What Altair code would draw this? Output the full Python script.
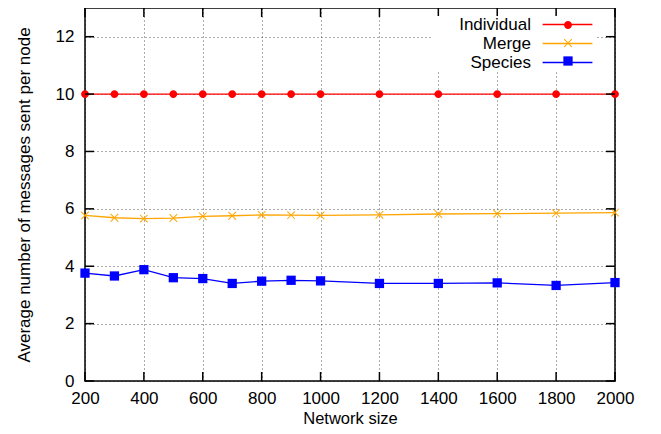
import altair as alt
import pandas as pd

sizes = [200, 300, 400, 500, 600, 700, 800, 900, 1000, 1200, 1400, 1600, 1800, 2000]
individual = [10, 10, 10, 10, 10, 10, 10, 10, 10, 10, 10, 10, 10, 10]
merge = [5.77, 5.69, 5.66, 5.68, 5.74, 5.76, 5.79, 5.78, 5.77, 5.79, 5.82, 5.83, 5.85, 5.87]
species = [3.76, 3.66, 3.88, 3.60, 3.57, 3.40, 3.48, 3.51, 3.49, 3.40, 3.40, 3.42, 3.33, 3.43]

series_names = ["Individual", "Merge", "Species"]
series_colors = ["#ff0000", "#ffa500", "#0000ff"]
x_ticks = [200, 400, 600, 800, 1000, 1200, 1400, 1600, 1800, 2000]
y_ticks = [0, 2, 4, 6, 8, 10, 12]

rows = []
for name, vals in zip(series_names, [individual, merge, species]):
    for s, v in zip(sizes, vals):
        rows.append({"size": s, "value": v, "series": name})
df = pd.DataFrame(rows)
xt_df = pd.DataFrame({"t": x_ticks})
yt_df = pd.DataFrame({"t": y_ticks})

W, H = 530, 373
TICK = 9
FONT = "Liberation Sans"
FS = 17

# marker paths (unit coords scaled by sqrt(size)/2)
circle_path = "M0.85,0A0.85,0.85,0,1,1,-0.85,0A0.85,0.85,0,1,1,0.85,0Z"
x_path = ("M-0.9,-0.75L-0.75,-0.9L0,-0.15L0.75,-0.9L0.9,-0.75L0.15,0"
          "L0.9,0.75L0.75,0.9L0,0.15L-0.75,0.9L-0.9,0.75L-0.15,0Z")
square_path = "M-1,-1L1,-1L1,1L-1,1Z"
legend_line_path = "M-5.4,0L5.4,0"

common_axis = dict(
    labelFont=FONT, labelFontSize=FS, labelColor="black",
    titleFont=FONT, titleColor="black", titleFontWeight="normal",
    ticks=False, domain=False, labelFlush=False,
    grid=True, gridDash=[1, 3], gridColor="#000", gridOpacity=0.65, gridWidth=1,
)

xscale = alt.Scale(domain=[200, 2000], nice=False, zero=False)
yscale = alt.Scale(domain=[0, 13], nice=False)

line_legend = alt.Legend(
    orient="none", legendX=346, legendY=8, title=None,
    symbolType=legend_line_path, symbolSize=85, symbolStrokeWidth=1.3,
    labelAlign="right", labelOffset={"expr": "-45"}, symbolOffset=128,
    rowPadding=1, padding=0, fillColor="white",
    labelFont=FONT, labelFontSize=FS, labelColor="black", labelBaseline="middle",
)

pt_legend = alt.Legend(
    orient="none", legendX=478, legendY=8, title=None,
    labelExpr="''", labelFontSize=8, symbolSize=86, symbolStrokeWidth=0,
    clipHeight=18, rowPadding=0, padding=0,
)

lines = alt.Chart(df).mark_line(strokeWidth=1.3).encode(
    x=alt.X("size:Q", scale=xscale, axis=alt.Axis(
        orient="bottom", values=x_ticks, title="Network size", format="d",
        labelPadding=9, titlePadding=4, titleFontSize=16.5,
        **common_axis)),
    y=alt.Y("value:Q", scale=yscale, axis=alt.Axis(
        orient="left", values=y_ticks, format="d",
        title="Average number of messages sent per node", titleFontSize=FS,
        labelPadding=11, titlePadding=22,
        **common_axis)),
    color=alt.Color("series:N", scale=alt.Scale(domain=series_names, range=series_colors),
                    legend=line_legend),
    detail="series:N",
)

points = alt.Chart(df).mark_point(filled=True, size=86, opacity=1, strokeWidth=0).encode(
    x=alt.X("size:Q", scale=xscale),
    y=alt.Y("value:Q", scale=yscale),
    fill=alt.Fill("series:N", scale=alt.Scale(range=series_colors), legend=pt_legend),
    shape=alt.Shape("series:N", scale=alt.Scale(range=[circle_path, x_path, square_path]),
                    legend=pt_legend),
)

tick_style = dict(color="black", strokeWidth=1.5)
ticks_bottom = alt.Chart(xt_df).mark_rule(**tick_style).encode(
    x=alt.X("t:Q", scale=xscale),
    y=alt.value(H), y2=alt.value(H - TICK))
ticks_top = alt.Chart(xt_df).mark_rule(**tick_style).encode(
    x=alt.X("t:Q", scale=xscale),
    y=alt.value(0), y2=alt.value(TICK))
ticks_left = alt.Chart(yt_df).mark_rule(**tick_style).encode(
    y=alt.Y("t:Q", scale=yscale),
    x=alt.value(0), x2=alt.value(TICK))
ticks_right = alt.Chart(yt_df).mark_rule(**tick_style).encode(
    y=alt.Y("t:Q", scale=yscale),
    x=alt.value(W), x2=alt.value(W - TICK))

chart = alt.layer(
    lines, points, ticks_bottom, ticks_top, ticks_left, ticks_right
).properties(
    width=W, height=H,
    autosize=alt.AutoSizeParams(type="none"),
    padding={"left": 77, "top": 0, "right": 30, "bottom": 45},
).configure(
    font=FONT, background="white"
).configure_view(
    stroke="black", strokeWidth=1.5
)

chart.save("out.html", embed_options={"renderer": "svg", "actions": False})
